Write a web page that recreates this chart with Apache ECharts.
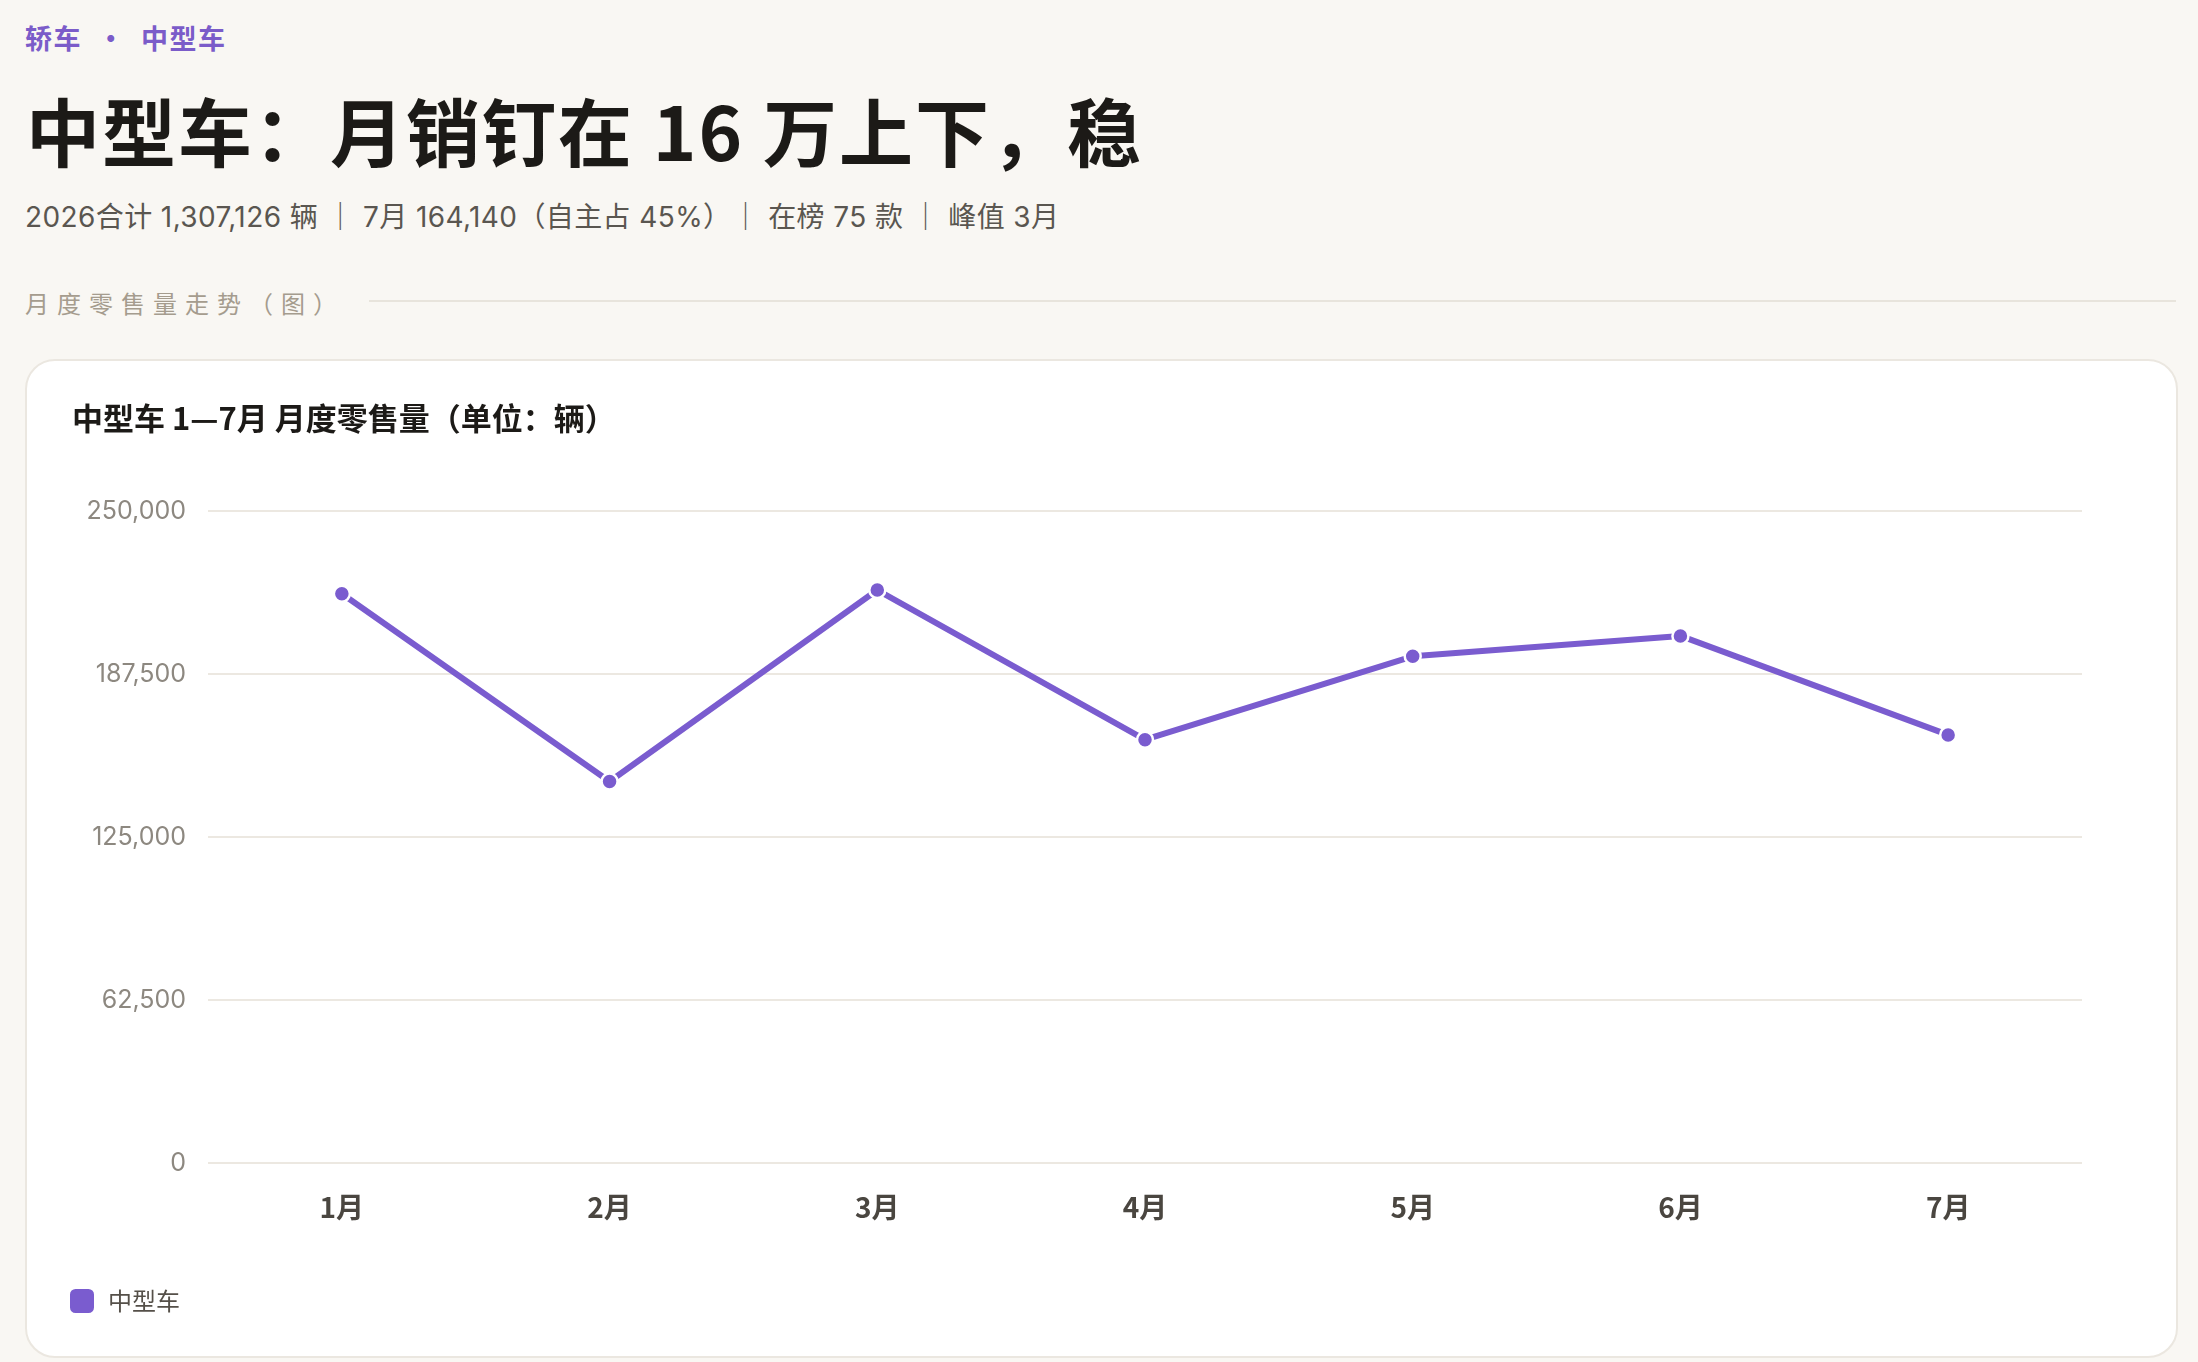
<!DOCTYPE html>
<html>
<head>
<meta charset="utf-8">
<script src="https://cdn.jsdelivr.net/npm/echarts@6/dist/echarts.min.js"></script>
<style>
  html, body { margin: 0; padding: 0; background: #f9f7f3; width: 2198px; height: 1362px; overflow: hidden; }
  body { font-family: "Noto Sans CJK SC", "Noto Sans", sans-serif; position: relative; }
  .crumb { position: absolute; left: 25px; top: 18px; font-size: 27px; font-weight: 700; color: #7b5cc9; letter-spacing: 1.5px; white-space: pre; }
  .title { position: absolute; left: 26px; top: 92px; font-size: 74px; font-weight: 700; color: #1c1a17; letter-spacing: 2px; line-height: 1; }
  .sub { position: absolute; left: 25px; top: 195px; font-size: 28px; color: #5a5650; letter-spacing: 0.4px; font-family: "Inter", "Noto Sans CJK SC", sans-serif; white-space: pre; }
  .section { position: absolute; left: 25px; top: 285px; font-size: 24px; color: #a59c8e; letter-spacing: 8px; }
  .rule { position: absolute; left: 369px; right: 22px; top: 300px; height: 2px; background: #e8e4dc; }
  .card { position: absolute; left: 25px; top: 359px; width: 2149px; height: 995px; background: #fff; border: 2px solid #ebe7e0; border-radius: 30px; }
  #chart { width: 2149px; height: 995px; }
</style>
</head>
<body>
<div class="crumb">轿车  ·  中型车</div>
<div class="title">中型车：月销钉在 16 万上下，稳</div>
<div class="sub">2026合计 1,307,126 辆 ｜ 7月 164,140（自主占 45%）｜ 在榜 75 款 ｜ 峰值 3月</div>
<div class="section">月度零售量走势（图）</div>
<div class="rule"></div>
<div class="card"><div id="chart"></div></div>
<script>
// monthly retail volume, mid-size cars
const months = ['1月', '2月', '3月', '4月', '5月', '6月', '7月'];
const sales = [218300, 146286, 219700, 162300, 194300, 202100, 164140];
const yTicks = [0, 62500, 125000, 187500, 250000];

const chart = echarts.init(document.getElementById('chart'));

chart.setOption({
  animation: false,
  textStyle: { fontFamily: '"Noto Sans CJK SC", sans-serif' },
  title: {
    text: '中型车 1—7月 月度零售量（单位：辆）',
    left: 40,
    top: 37,
    textStyle: { fontSize: 31, fontWeight: 700, color: '#1c1a17' }
  },
  legend: {
    left: 36,
    bottom: 36,
    icon: 'roundRect',
    itemWidth: 26,
    itemHeight: 26,
    itemGap: 10,
    textStyle: { fontSize: 24, color: '#555049', padding: [0, 0, 0, 8] },
    data: ['中型车']
  },
  grid: { left: 181, right: 94, top: 150, bottom: 193 },
  xAxis: {
    type: 'category',
    data: months,
    boundaryGap: true,
    axisLine: { show: false },
    axisTick: { show: false },
    axisLabel: { margin: 30, fontSize: 28, fontWeight: 600, color: '#4a4640' }
  },
  yAxis: {
    type: 'value',
    min: yTicks[0],
    max: yTicks[yTicks.length - 1],
    interval: yTicks[1] - yTicks[0],
    axisLine: { show: false },
    axisTick: { show: false },
    axisLabel: {
      margin: 22,
      fontSize: 25,
      fontFamily: 'Inter, sans-serif',
      color: '#8d8880',
      formatter: (v) => v.toLocaleString('en-US')
    },
    splitLine: { lineStyle: { color: '#ece8e1', width: 2 } }
  },
  series: [{
    name: '中型车',
    type: 'line',
    data: sales,
    symbol: 'circle',
    symbolSize: 16,
    lineStyle: { color: '#7a5ccf', width: 6 },
    itemStyle: { color: '#7a5ccf', borderColor: '#fff', borderWidth: 2.5 }
  }]
});
</script>
</body>
</html>
